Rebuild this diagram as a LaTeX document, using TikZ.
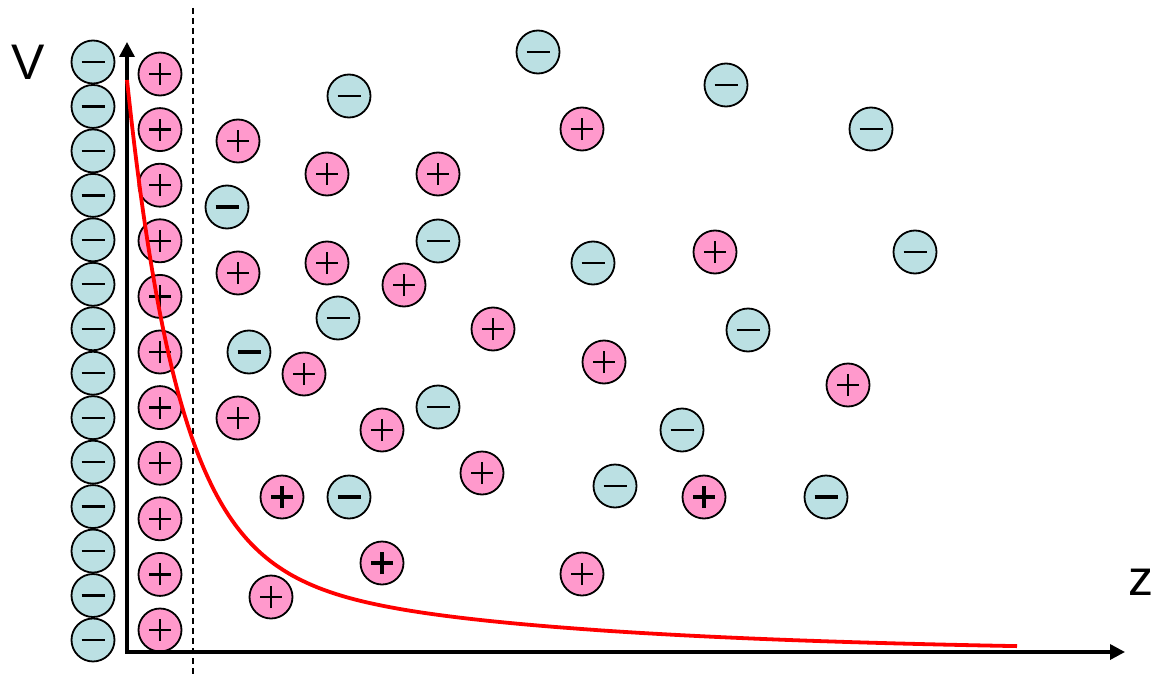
\documentclass[tikz,border=0pt]{standalone}
\usepackage{fontspec}
\setmainfont{Liberation Sans}
\usetikzlibrary{arrows.meta}
\definecolor{negc}{RGB}{187,224,227}
\definecolor{posc}{RGB}{255,153,204}
\tikzset{
  ion/.style={circle, draw=black, line width=1.8pt, minimum size=43pt, inner sep=0pt},
  neg/.style={ion, fill=negc, path picture={\draw[line width=#1]
      ([xshift=-11.5pt]path picture bounding box.center) -- ([xshift=11.5pt]path picture bounding box.center);}},
  neg/.default=2.3pt,
  pos/.style={ion, fill=posc, path picture={\draw[line width=#1]
      ([xshift=-11pt]path picture bounding box.center) -- ([xshift=11pt]path picture bounding box.center)
      ([yshift=-11pt]path picture bounding box.center) -- ([yshift=11pt]path picture bounding box.center);}},
  pos/.default=2.3pt,
  axisline/.style={line width=3.4pt, line join=miter, {Triangle[width=15pt,length=15pt]}-{Triangle[width=15pt,length=15pt]}},
  dashline/.style={line width=1.5pt, dash pattern=on 6pt off 4pt},
  potential/.style={red, line width=3.8pt},
  axlabel/.style={font=\fontsize{50}{50}\selectfont, inner sep=0pt}
}
\begin{document}
\begin{tikzpicture}[x=1pt,y=-1pt]
\useasboundingbox (0,0) rectangle (1153,674);
% dashed plane
\coordinate (dtop) at (193,8);
\coordinate (dbot) at (193,674);
\draw[dashline] (dtop) -- (dbot);
% wall of negative charges
\foreach \i in {0,...,13} {
  \node[neg] (m\i) at (93,{62+44.46*\i}) {};
}
% adsorbed positive layer
\foreach \i in {0,...,10} {
  \node[pos] (p\i) at (160,{74+55.6*\i}) {};
}
% diffuse layer: negative ions
\node[neg] (n1) at (538,52) {};
\node[neg] (n2) at (726,85) {};
\node[neg] (n3) at (349,96) {};
\node[neg] (n4) at (871,129) {};
\node[neg=3.3pt] (n5) at (227,207) {};
\node[neg] (n6) at (438,241) {};
\node[neg] (n7) at (593,263) {};
\node[neg] (n8) at (915,252) {};
\node[neg] (n9) at (338,318) {};
\node[neg] (n10) at (748,330) {};
\node[neg=3.3pt] (n11) at (249,352) {};
\node[neg] (n12) at (438,407) {};
\node[neg] (n13) at (682,430) {};
\node[neg=3.3pt] (n14) at (349,497) {};
\node[neg] (n15) at (615,486) {};
\node[neg=3.3pt] (n16) at (826,497) {};
% diffuse layer: positive ions
\node[pos] (q1) at (238,141) {};
\node[pos] (q2) at (582,129) {};
\node[pos] (q3) at (327,174) {};
\node[pos] (q4) at (438,174) {};
\node[pos] (q5) at (238,273) {};
\node[pos] (q6) at (327,263) {};
\node[pos] (q7) at (404,285) {};
\node[pos] (q8) at (715,252) {};
\node[pos] (q9) at (493,329) {};
\node[pos] (q10) at (604,362) {};
\node[pos] (q11) at (304,374) {};
\node[pos] (q12) at (848,385) {};
\node[pos] (q13) at (238,418) {};
\node[pos] (q14) at (382,430) {};
\node[pos] (q15) at (482,473) {};
\node[pos=3.2pt] (q16) at (282,497) {};
\node[pos=3.2pt] (q17) at (704,497) {};
\node[pos=3.2pt] (q18) at (382,563) {};
\node[pos] (q19) at (582,574) {};
\node[pos] (q20) at (271,597) {};
% axes
\coordinate (O) at (127,652);
\coordinate (ytop) at (127,42);
\coordinate (xend) at (1125,652);
\draw[axisline] (ytop) -- (O) -- (xend);
% potential curve
\draw[potential] plot[domain=0:890, samples=220, smooth]
  ({127+\x},{652-477*exp(-\x/52)-95*exp(-\x/320)});
% labels
\node[axlabel] (V) at (28,62) {V};
\node[axlabel] (Z) at (1141,582) {z};
\end{tikzpicture}
\end{document}
